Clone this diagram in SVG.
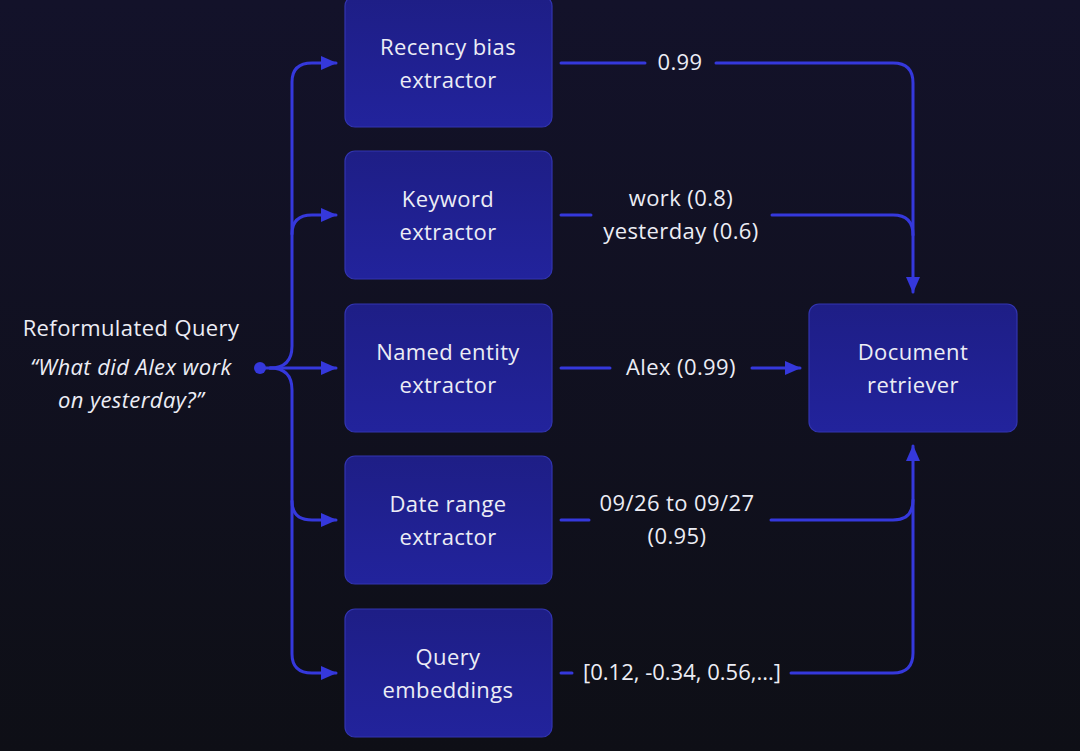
<svg xmlns="http://www.w3.org/2000/svg" width="1080" height="751" viewBox="0 0 1080 751">
<defs>
<linearGradient id="bg" x1="0" y1="0" x2="0" y2="1">
<stop offset="0" stop-color="#13122a"/>
<stop offset="1" stop-color="#0e0f16"/>
</linearGradient>
<linearGradient id="box" x1="0" y1="0" x2="0" y2="1">
<stop offset="0" stop-color="#1e1e86"/>
<stop offset="1" stop-color="#22239c"/>
</linearGradient>
<marker id="ah2" viewBox="0 0 16 14" refX="15" refY="7" markerWidth="16" markerHeight="14" markerUnits="userSpaceOnUse" orient="auto">
<path d="M0,0 L16,7 L0,14 Z" fill="#3538dc"/>
</marker>
</defs>
<style>
.node rect{fill:url(#box);stroke:#3234b0;stroke-width:1.2}
.t,.lb{font-family:"Open Sans","Liberation Sans",sans-serif;font-size:22px;letter-spacing:0.4px;fill:#ecedf5;text-anchor:middle}
.it{font-style:italic}
.c{fill:none;stroke:#3538dc;stroke-width:3;stroke-linecap:round;stroke-linejoin:round}
</style>
<rect width="1080" height="751" fill="url(#bg)"/>

<g id="query">
<text class="lb" x="131" y="336">Reformulated Query</text>
<text class="lb it" x="131" y="375">“What did Alex work</text>
<text class="lb it" x="131" y="408">on yesterday?”</text>
</g>

<g id="connectors">
<circle cx="260" cy="368" r="6" fill="#3538dc"/>
<path class="c" d="M260,368 H336" marker-end="url(#ah2)"/>
<path class="c" d="M270,368 Q292,368 292,346 V82 Q292,63 312,63 H336" marker-end="url(#ah2)"/>
<path class="c" d="M292,234 Q292,215 312,215 H336" marker-end="url(#ah2)"/>
<path class="c" d="M270,368 Q292,368 292,390 V654 Q292,673 312,673 H336" marker-end="url(#ah2)"/>
<path class="c" d="M292,501 Q292,520 312,520 H336" marker-end="url(#ah2)"/>

<path class="c" d="M561,63 H645"/>
<path class="c" d="M716,63 H893 Q913,63 913,83 V292" marker-end="url(#ah2)"/>
<path class="c" d="M561,215 H591"/>
<path class="c" d="M772,215 H893 Q913,215 913,235"/>
<path class="c" d="M561,368 H610"/>
<path class="c" d="M752,368 H800" marker-end="url(#ah2)"/>
<path class="c" d="M561,520 H589"/>
<path class="c" d="M771,520 H893 Q913,520 913,500"/>
<path class="c" d="M561,673 H572"/>
<path class="c" d="M791,673 H893 Q913,673 913,653 V446" marker-end="url(#ah2)"/>
</g>

<g id="lbl-recency"><text class="lb" x="680" y="70">0.99</text></g>
<g id="lbl-keyword"><text class="lb" x="681" y="206">work (0.8)</text><text class="lb" x="681" y="239">yesterday (0.6)</text></g>
<g id="lbl-entity"><text class="lb" x="681" y="375">Alex (0.99)</text></g>
<g id="lbl-date"><text class="lb" x="677" y="511">09/26 to 09/27</text><text class="lb" x="677" y="544">(0.95)</text></g>
<g id="lbl-embed"><text class="lb" x="682" y="680" style="letter-spacing:0px">[0.12, -0.34, 0.56,...]</text></g>

<g id="n-recency" class="node"><rect x="345" y="-4" width="207" height="131" rx="10"/><text class="t" x="448" y="55">Recency bias</text><text class="t" x="448" y="88">extractor</text></g>
<g id="n-keyword" class="node"><rect x="345" y="151" width="207" height="128" rx="10"/><text class="t" x="448" y="207">Keyword</text><text class="t" x="448" y="240">extractor</text></g>
<g id="n-entity" class="node"><rect x="345" y="304" width="207" height="128" rx="10"/><text class="t" x="448" y="360">Named entity</text><text class="t" x="448" y="393">extractor</text></g>
<g id="n-date" class="node"><rect x="345" y="456" width="207" height="128" rx="10"/><text class="t" x="448" y="512">Date range</text><text class="t" x="448" y="545">extractor</text></g>
<g id="n-embed" class="node"><rect x="345" y="609" width="207" height="128" rx="10"/><text class="t" x="448" y="665">Query</text><text class="t" x="448" y="698">embeddings</text></g>
<g id="n-doc" class="node"><rect x="809" y="304" width="208" height="128" rx="10"/><text class="t" x="913" y="360">Document</text><text class="t" x="913" y="393">retriever</text></g>
</svg>
